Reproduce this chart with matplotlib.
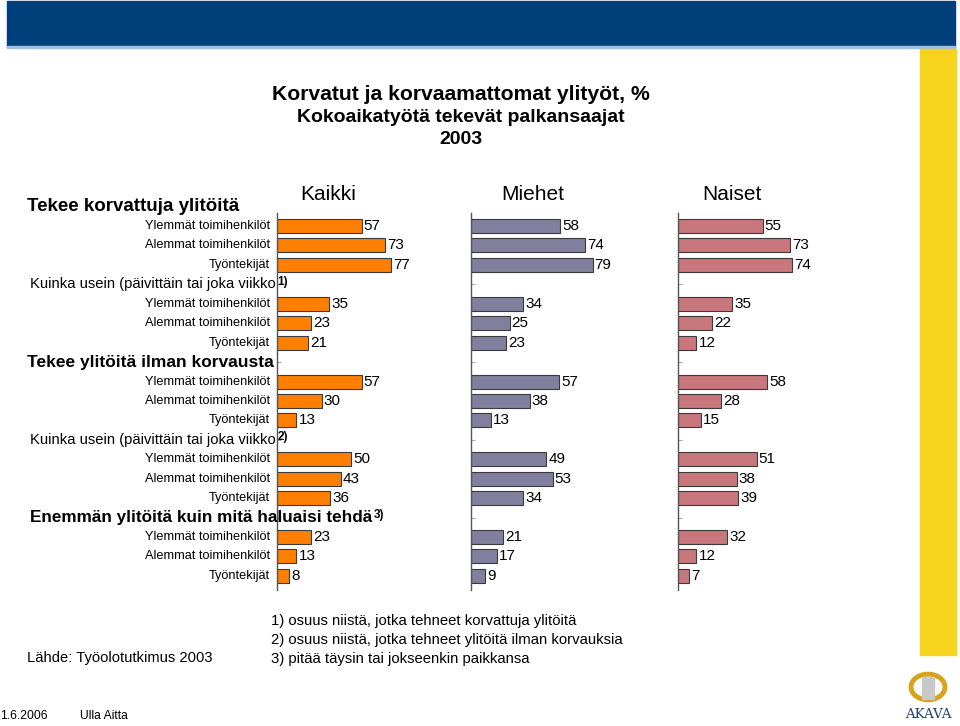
import matplotlib

matplotlib.use("Agg")
import matplotlib.pyplot as plt
import matplotlib.transforms as mtransforms
from matplotlib.patches import Rectangle, Circle

plt.rcParams["font.family"] = ["Liberation Sans", "DejaVu Sans"]

W, H = 960, 726

CATS = ["Ylemmät toimihenkilöt", "Alemmat toimihenkilöt", "Työntekijät"]
GROUPS = ["Tekee korvattuja ylitöitä",
          "Kuinka usein (päivittäin tai joka viikko",
          "Tekee ylitöitä ilman korvausta",
          "Kuinka usein (päivittäin tai joka viikko",
          "Enemmän ylitöitä kuin mitä haluaisi tehdä"]
GROUP_SUP = ["", "1)", "", "2)", "3)"]
PANELS = ["Kaikki", "Miehet", "Naiset"]
KAIKKI = [[57, 73, 77], [35, 23, 21], [57, 30, 13], [50, 43, 36], [23, 13, 8]]
MIEHET = [[58, 74, 79], [34, 25, 23], [57, 38, 13], [49, 53, 34], [21, 17, 9]]
NAISET = [[55, 73, 74], [35, 22, 12], [58, 28, 15], [51, 38, 39], [32, 12, 7]]
COLORS = ["#ff8000", "#80809e", "#c8787d"]
FOOTNOTES = ["1) osuus niistä, jotka tehneet korvattuja ylitöitä",
             "2) osuus niistä, jotka tehneet ylitöitä ilman korvauksia",
             "3) pitää täysin tai jokseenkin paikkansa"]


def fx(x):
    return x / W


def fy(y):
    return 1 - y / H


fig = plt.figure(figsize=(W / 100, H / 100), dpi=100)

# decoration: blue band, yellow strip
fig.add_artist(Rectangle((fx(7), fy(47)), fx(948), 46 / H, transform=fig.transFigure,
                         color="#00407a", zorder=0))
fig.add_artist(Rectangle((fx(7), fy(48)), fx(948), 1.5 / H, transform=fig.transFigure,
                         color="#9fc0dc", zorder=0))
fig.add_artist(Rectangle((fx(920), fy(655)), fx(36), 606 / H, transform=fig.transFigure,
                         color="#f6d31c", zorder=0))

# rows: each group = header row + 3 category rows
pos = []
header_pos = []
k = -1
for g in range(len(GROUPS)):
    header_pos.append(k)
    pos.extend([k + 1, k + 2, k + 3])
    k += 4

top_px, bot_px = 213.4, 589.5
row_lo, row_hi = -0.65, 18.7
ax_h = (bot_px - top_px) / H
lefts = [277, 471, 678]
widths = [148.6, 154, 154]
title_x = [0.343, 0.40, 0.35]
axes = []
for i, (name, vals) in enumerate(zip(PANELS, [KAIKKI, MIEHET, NAISET])):
    ax = fig.add_axes([fx(lefts[i]), fy(bot_px), widths[i] / W, ax_h])
    flat = [v for grp in vals for v in grp]
    bars = ax.barh(pos, flat, height=0.72, color=COLORS[i], edgecolor="#3a3a3a",
                   linewidth=0.8)
    for b, v in zip(bars, flat):
        ax.annotate(str(v), (b.get_width(), b.get_y() + b.get_height() / 2),
                    xytext=(1.5, 0), textcoords="offset points", va="center",
                    ha="left", fontsize=11)
    ax.set_xlim(0, 100)
    ax.set_ylim(row_hi, row_lo)
    for s in ("top", "right", "bottom"):
        ax.spines[s].set_visible(False)
    ax.spines["left"].set_color("#555555")
    ax.spines["left"].set_linewidth(1.0)
    ax.set_xticks([])
    ax.set_yticks([h for h in header_pos if h > row_lo])
    ax.set_yticklabels([])
    ax.tick_params(axis="y", direction="in", length=3, color="#aaaaaa", width=0.8)
    ax.patch.set_alpha(0)
    ax.text(title_x[i], fy(195), name, fontsize=15, ha="center", va="center",
            transform=mtransforms.blended_transform_factory(ax.transAxes,
                                                            fig.transFigure))
    axes.append(ax)

axk = axes[0]
# category labels
for p, lab in zip(pos, CATS * len(GROUPS)):
    axk.text(-0.045, p, lab, transform=mtransforms.blended_transform_factory(
        axk.transAxes, axk.transData), ha="right", va="center", fontsize=9.2)

# group headers
tr = mtransforms.blended_transform_factory(fig.transFigure, axk.transData)
hdr_style = [dict(x=27, fontsize=13.5, fontweight="bold"),
             dict(x=30, fontsize=10.6, fontweight="normal"),
             dict(x=27, fontsize=12.5, fontweight="bold"),
             dict(x=30, fontsize=10.6, fontweight="normal"),
             dict(x=30, fontsize=12.3, fontweight="bold")]
for hp, txt, sup, st in zip(header_pos, GROUPS, GROUP_SUP, hdr_style):
    t = fig.text(fx(st["x"]), hp, txt, transform=tr, ha="left", va="center",
                 fontsize=st["fontsize"], fontweight=st["fontweight"], zorder=5)
    if sup:
        axk.annotate(sup, xy=(1, 1), xycoords=t, xytext=(1, 1),
                     textcoords="offset points", va="top", ha="left",
                     fontsize=8.5, fontweight="bold", annotation_clip=False)

# titles
fig.text(fx(461), fy(95), "Korvatut ja korvaamattomat ylityöt, %", ha="center",
         va="center", fontsize=15.2, fontweight="bold")
fig.text(fx(461), fy(117), "Kokoaikatyötä tekevät palkansaajat", ha="center",
         va="center", fontsize=14, fontweight="bold")
fig.text(fx(461), fy(140), "2003", ha="center", va="center", fontsize=14,
         fontweight="bold")

# footnotes
for i, fn in enumerate(FOOTNOTES):
    fig.text(fx(271), fy(621 + i * 19), fn, ha="left", va="center", fontsize=10.7)
fig.text(fx(27), fy(658), "Lähde: Työolotutkimus 2003", ha="left", va="center",
         fontsize=10.6)
fig.text(fx(0), fy(716), "1.6.2006", ha="left", va="center", fontsize=8.7)
fig.text(fx(80), fy(716), "Ulla Aitta", ha="left", va="center", fontsize=8.7)

# logo (rough)
fig.add_artist(Circle((fx(928), fy(687)), 17 / W, transform=fig.transFigure,
                      facecolor="none", edgecolor="#d9a21b", linewidth=3.5))
fig.add_artist(Rectangle((fx(922), fy(699)), 12 / W, 22 / H, transform=fig.transFigure,
                         color="#c8c8c8"))
fig.text(fx(928), fy(715), "AKAVA", ha="center", va="center", fontsize=9.5,
         family="DejaVu Serif", color="#1d3d6b")

fig.savefig("out.png", dpi=100)
